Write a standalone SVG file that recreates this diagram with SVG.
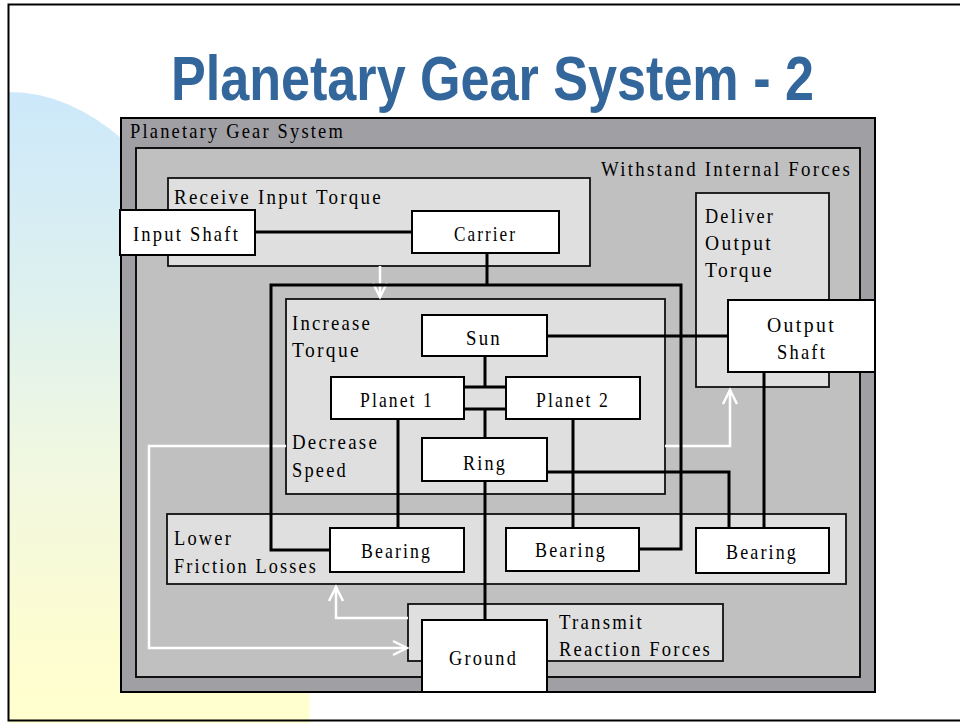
<svg xmlns="http://www.w3.org/2000/svg" width="960" height="723" viewBox="0 0 960 723">
<defs>
<linearGradient id="bg" x1="0" y1="92" x2="0" y2="720" gradientUnits="userSpaceOnUse">
<stop offset="0" stop-color="#cce8fa"/>
<stop offset="0.3" stop-color="#dcf0f0"/>
<stop offset="0.6" stop-color="#f1f8e0"/>
<stop offset="0.85" stop-color="#fcfcd2"/>
<stop offset="1" stop-color="#ffffcf"/>
</linearGradient>
<marker id="wa" markerUnits="userSpaceOnUse" markerWidth="20" markerHeight="20" refX="0" refY="0" viewBox="-16 -10 20 20" orient="auto">
<path d="M-14,-7 L0,0 L-14,7" fill="none" stroke="#fff" stroke-width="2.5"/>
</marker>
<style>
.lbl{font-family:"Liberation Serif","Times New Roman",serif;font-size:21px;letter-spacing:2.5px;fill:#000}
.title{font-family:"Liberation Sans",Arial,sans-serif;font-weight:bold;font-size:63px;fill:#33669a}
.sys{fill:#a09fa4;stroke:#000;stroke-width:2}
.mid{fill:#c0c0c0;stroke:#000;stroke-width:1.8}
.fn{fill:#dfdfdf;stroke:#111;stroke-width:1.8}
.node rect{fill:#fff;stroke:#000;stroke-width:2}
.conn{fill:none;stroke:#000;stroke-width:3}
.flow{fill:none;stroke:#fff;stroke-width:2.5}
</style>
</defs>
<rect x="0" y="0" width="960" height="723" fill="#fff"/>
<path d="M9,92 A301,641 0 0 1 310,733 L9,733 Z" fill="url(#bg)"/>
<rect x="8.5" y="4.5" width="965" height="716" fill="none" stroke="#000" stroke-width="2"/>
<text class="title" x="171" y="100" textLength="643" lengthAdjust="spacingAndGlyphs">Planetary Gear System - 2</text>

<g id="planetary-gear-system">
<rect class="sys" x="121" y="118" width="754" height="574"/>
<text class="lbl" x="130" y="138" textLength="215" lengthAdjust="spacingAndGlyphs">Planetary Gear System</text>
</g>
<g id="withstand-internal-forces">
<rect class="mid" x="136" y="148" width="724" height="529"/>
<text class="lbl" x="601" y="176" textLength="251" lengthAdjust="spacingAndGlyphs">Withstand Internal Forces</text>
</g>
<g id="receive-input-torque">
<rect class="fn" x="168" y="178" width="422" height="88"/>
<text class="lbl" x="174" y="204" textLength="209" lengthAdjust="spacingAndGlyphs">Receive Input Torque</text>
</g>
<g id="deliver-output-torque">
<rect class="fn" x="696" y="193" width="133" height="194"/>
<text class="lbl" x="705" y="223" textLength="70" lengthAdjust="spacingAndGlyphs">Deliver</text>
<text class="lbl" x="705" y="250" textLength="68" lengthAdjust="spacingAndGlyphs">Output</text>
<text class="lbl" x="705" y="277" textLength="69" lengthAdjust="spacingAndGlyphs">Torque</text>
</g>
<g id="increase-torque">
<rect class="fn" x="286" y="299" width="379" height="195"/>
<text class="lbl" x="292" y="330" textLength="80" lengthAdjust="spacingAndGlyphs">Increase</text>
<text class="lbl" x="292" y="357" textLength="69" lengthAdjust="spacingAndGlyphs">Torque</text>
<text class="lbl" x="292" y="449" textLength="87" lengthAdjust="spacingAndGlyphs">Decrease</text>
<text class="lbl" x="292" y="477" textLength="56" lengthAdjust="spacingAndGlyphs">Speed</text>
</g>
<g id="lower-friction-losses">
<rect class="fn" x="167" y="514" width="679" height="70"/>
<text class="lbl" x="174" y="545" textLength="59" lengthAdjust="spacingAndGlyphs">Lower</text>
<text class="lbl" x="174" y="573" textLength="144" lengthAdjust="spacingAndGlyphs">Friction Losses</text>
</g>
<g id="transmit-reaction-forces">
<rect class="fn" x="408" y="604" width="315" height="57"/>
<text class="lbl" x="559" y="629" textLength="85" lengthAdjust="spacingAndGlyphs">Transmit</text>
<text class="lbl" x="559" y="656" textLength="153" lengthAdjust="spacingAndGlyphs">Reaction Forces</text>
</g>

<g id="connectors">
<path class="flow" d="M380,266 L380,297" marker-end="url(#wa)"/>
<path class="flow" d="M665,446 L730,446 L730,390" marker-end="url(#wa)"/>
<path class="flow" d="M286,446 L149,446 L149,648 L407,648" marker-end="url(#wa)"/>
<path class="flow" d="M408,618 L336,618 L336,587" marker-end="url(#wa)"/>
<path class="conn" d="M255,232 L412,232"/>
<path class="conn" d="M487,253 L487,285"/>
<path class="conn" d="M330,550 L271,550 L271,285 L681,285 L681,549 L640,549"/>
<path class="conn" d="M547,336 L728,336"/>
<path class="conn" d="M485,356 L485,387"/>
<path class="conn" d="M464,387 L506,387"/>
<path class="conn" d="M464,409 L506,409"/>
<path class="conn" d="M485,409 L485,438"/>
<path class="conn" d="M485,481 L485,620"/>
<path class="conn" d="M547,472 L729,472 L729,528"/>
<path class="conn" d="M398,419 L398,528"/>
<path class="conn" d="M573,419 L573,528"/>
<path class="conn" d="M764,372 L764,528"/>
</g>

<g id="input-shaft" class="node">
<rect x="120" y="210" width="135" height="45"/>
<text class="lbl" x="133" y="241" textLength="107" lengthAdjust="spacingAndGlyphs">Input Shaft</text>
</g>
<g id="carrier" class="node">
<rect x="412" y="211" width="147" height="42"/>
<text class="lbl" x="454" y="241" textLength="63" lengthAdjust="spacingAndGlyphs">Carrier</text>
</g>
<g id="sun" class="node">
<rect x="422" y="315" width="125" height="41"/>
<text class="lbl" x="466" y="345" textLength="36" lengthAdjust="spacingAndGlyphs">Sun</text>
</g>
<g id="planet-1" class="node">
<rect x="331" y="377" width="133" height="42"/>
<text class="lbl" x="360" y="407" textLength="74" lengthAdjust="spacingAndGlyphs">Planet 1</text>
</g>
<g id="planet-2" class="node">
<rect x="506" y="377" width="134" height="42"/>
<text class="lbl" x="536" y="407" textLength="74" lengthAdjust="spacingAndGlyphs">Planet 2</text>
</g>
<g id="ring" class="node">
<rect x="422" y="438" width="125" height="43"/>
<text class="lbl" x="463" y="470" textLength="44" lengthAdjust="spacingAndGlyphs">Ring</text>
</g>
<g id="output-shaft" class="node">
<rect x="728" y="300" width="147" height="72"/>
<text class="lbl" x="767" y="332" textLength="69" lengthAdjust="spacingAndGlyphs">Output</text>
<text class="lbl" x="777" y="359" textLength="50" lengthAdjust="spacingAndGlyphs">Shaft</text>
</g>
<g id="bearing-1" class="node">
<rect x="330" y="528" width="134" height="44"/>
<text class="lbl" x="361" y="558" textLength="71" lengthAdjust="spacingAndGlyphs">Bearing</text>
</g>
<g id="bearing-2" class="node">
<rect x="506" y="528" width="133" height="43"/>
<text class="lbl" x="535" y="557" textLength="72" lengthAdjust="spacingAndGlyphs">Bearing</text>
</g>
<g id="bearing-3" class="node">
<rect x="696" y="528" width="133" height="45"/>
<text class="lbl" x="726" y="559" textLength="72" lengthAdjust="spacingAndGlyphs">Bearing</text>
</g>
<g id="ground" class="node">
<rect x="422" y="620" width="125" height="72"/>
<text class="lbl" x="449" y="665" textLength="69" lengthAdjust="spacingAndGlyphs">Ground</text>
</g>
</svg>
